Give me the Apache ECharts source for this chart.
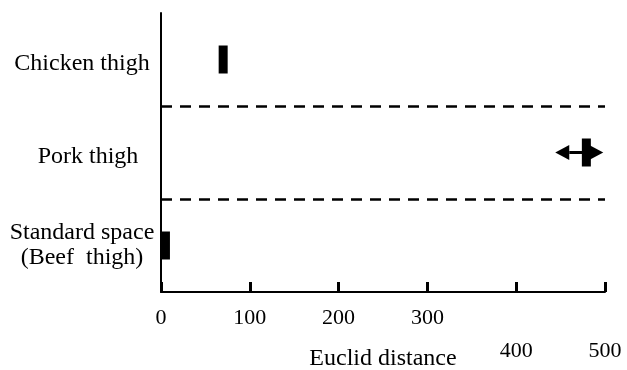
<!DOCTYPE html>
<html>
<head>
<meta charset="utf-8">
<script src="https://cdn.jsdelivr.net/npm/echarts@6/dist/echarts.min.js"></script>
<style>html,body{margin:0;padding:0;background:#fff;}#main{width:627px;height:370px;}</style>
</head>
<body>
<div id="main"></div>
<script>
// Data (top to bottom)
var categories = ['Chicken thigh', 'Pork thigh', 'Standard space\n(Beef  thigh)'];
var distances = [70, 479, 5];
var rangeLow = [null, 444, null];
var rangeHigh = [null, 498, null];
var xTicks = [0, 100, 200, 300, 400, 500];
var dividers = [1, 2];

var FONT = 'Liberation Serif';
var chart = echarts.init(document.getElementById('main'), null, {renderer: 'canvas'});

var seriesData = categories.map(function (c, i) {
  return [distances[i], i, rangeLow[i] == null ? NaN : rangeLow[i], rangeHigh[i] == null ? NaN : rangeHigh[i]];
});

function renderItem(params, api) {
  var v = api.value(0), ci = api.value(1), lo = api.value(2), hi = api.value(3);
  var p = api.coord([v, ci]);
  var children = [];
  var bw = 9, bh = 28;
  if (!isNaN(lo) && !isNaN(hi)) {
    var pl = api.coord([lo, ci]);
    var ph = api.coord([hi, ci]);
    var ah = 15, aw = 14, y = p[1];
    children.push({type: 'line', shape: {x1: pl[0] + aw, y1: y, x2: ph[0] - aw, y2: y},
      style: {stroke: '#000', lineWidth: 3}});
    children.push({type: 'polygon', shape: {points: [[pl[0], y], [pl[0] + aw, y - ah / 2], [pl[0] + aw, y + ah / 2]]},
      style: {fill: '#000'}});
    children.push({type: 'polygon', shape: {points: [[ph[0], y], [ph[0] - aw, y - ah / 2], [ph[0] - aw, y + ah / 2]]},
      style: {fill: '#000'}});
  }
  children.push({type: 'rect', shape: {x: p[0] - bw / 2, y: p[1] - bh / 2, width: bw, height: bh},
    style: {fill: '#000'}});
  return {type: 'group', children: children};
}

var labelRich = {
  a: {fontFamily: FONT, fontSize: 24, lineHeight: 25, color: '#000', padding: [9, 0, 0, 0]},
  p: {fontFamily: FONT, fontSize: 24, lineHeight: 25, color: '#000', padding: [9, 0, 0, 12]},
  s: {fontFamily: FONT, fontSize: 24, lineHeight: 25, color: '#000', padding: [0, 0, 0, 0]}
};

var option = {
  backgroundColor: '#fff',
  animation: false,
  grid: {left: 161, right: 22, top: 13, bottom: 78, containLabel: false, outerBoundsMode: 'none'},
  xAxis: {
    type: 'value', position: 'bottom', min: xTicks[0], max: xTicks[xTicks.length - 1], interval: 100,
    name: 'Euclid distance', nameLocation: 'middle', nameGap: 55, nameMoveOverlap: false,
    nameTextStyle: {fontFamily: FONT, fontSize: 24, color: '#000'},
    axisLine: {show: true, onZero: false, lineStyle: {color: '#000', width: 2}},
    axisTick: {show: true, inside: true, length: 10, lineStyle: {color: '#000', width: 3}},
    splitLine: {show: false},
    axisLabel: {
      margin: 15, fontFamily: FONT, fontSize: 22, color: '#000',
      formatter: function (v) { return v >= 400 ? '{low|' + v + '}' : '{n|' + v + '}'; },
      rich: {
        n: {fontFamily: FONT, fontSize: 22, color: '#000'},
        low: {fontFamily: FONT, fontSize: 22, color: '#000', padding: [33, 0, 0, 0]}
      }
    }
  },
  yAxis: [{
    type: 'category', data: categories, inverse: true,
    axisLine: {show: true, onZero: false, lineStyle: {color: '#000', width: 2}},
    axisTick: {show: false},
    splitLine: {show: false},
    axisLabel: {
      margin: 79, align: 'center', fontFamily: FONT, fontSize: 24, lineHeight: 25, color: '#000',
      formatter: function (v, i) {
        var key = i === 0 ? 'a' : (i === 1 ? 'p' : 's');
        return v.split('\n').map(function (line) { return '{' + key + '|' + line + '}'; }).join('\n');
      },
      rich: labelRich
    }
  }, {
    type: 'value', min: 0, max: 3, inverse: true, show: false
  }],
  series: [{
    type: 'custom', renderItem: renderItem, data: seriesData,
    encode: {x: 0, y: 1}, silent: true
  }, {
    type: 'line', yAxisIndex: 1, data: [], silent: true,
    markLine: {
      silent: true, symbol: ['none', 'none'], label: {show: false},
      lineStyle: {color: '#000', width: 2.5, type: [11, 8]},
      data: dividers.map(function (d) { return {yAxis: d}; })
    }
  }]
};
chart.setOption(option);
</script>
</body>
</html>
